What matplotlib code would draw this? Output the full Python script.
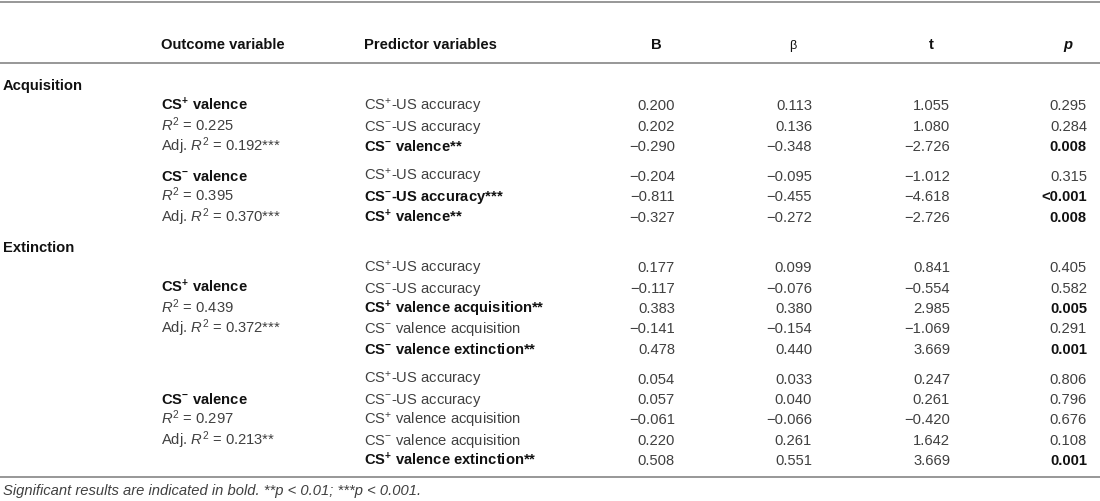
import matplotlib.pyplot as plt

plt.rcParams['font.family'] = ['Liberation Sans', 'DejaVu Sans']
plt.rcParams['mathtext.fontset'] = 'custom'
plt.rcParams['mathtext.rm'] = 'Liberation Sans'
plt.rcParams['mathtext.it'] = 'Liberation Sans:italic'
plt.rcParams['mathtext.bf'] = 'Liberation Sans:bold'

# table content
header_labels = ['Outcome variable', 'Predictor variables', 'B', 'β', 't', 'p']
sections = ['Acquisition', 'Extinction']
groups_per_section = [2, 2]

outcomes = ['CS⁺ valence', 'CS⁻ valence', 'CS⁺ valence', 'CS⁻ valence']
r2_values = ['0.225', '0.395', '0.439', '0.297']
adj_r2_values = ['0.192***', '0.370***', '0.372***', '0.213**']
group_sizes = [3, 3, 5, 5]

predictors = [
    'CS⁺-US accuracy', 'CS⁻-US accuracy', 'CS⁻ valence**',
    'CS⁺-US accuracy', 'CS⁻-US accuracy***', 'CS⁺ valence**',
    'CS⁺-US accuracy', 'CS⁻-US accuracy', 'CS⁺ valence acquisition**',
    'CS⁻ valence acquisition', 'CS⁻ valence extinction**',
    'CS⁺-US accuracy', 'CS⁻-US accuracy', 'CS⁺ valence acquisition',
    'CS⁻ valence acquisition', 'CS⁺ valence extinction**',
]
b_values = [0.200, 0.202, -0.290, -0.204, -0.811, -0.327,
            0.177, -0.117, 0.383, -0.141, 0.478,
            0.054, 0.057, -0.061, 0.220, 0.508]
beta_values = [0.113, 0.136, -0.348, -0.095, -0.455, -0.272,
               0.099, -0.076, 0.380, -0.154, 0.440,
               0.033, 0.040, -0.066, 0.261, 0.551]
t_values = [1.055, 1.080, -2.726, -1.012, -4.618, -2.726,
            0.841, -0.554, 2.985, -1.069, 3.669,
            0.247, 0.261, -0.420, 1.642, 3.669]
p_values = ['0.295', '0.284', '0.008', '0.315', '<0.001', '0.008',
            '0.405', '0.582', '0.005', '0.291', '0.001',
            '0.806', '0.796', '0.676', '0.108', '0.001']
significant = [False, False, True, False, True, True,
               False, False, True, False, True,
               False, False, False, False, True]
footnote = 'Significant results are indicated in bold. **p < 0.01; ***p < 0.001.'

FS = 10.6
REG = '#404040'
BOLD = '#111111'
LINE = '#8f8f8f'
X_SECTION, X_OUTCOME, X_PRED = 3, 161, 364
X_NUM = [675, 812, 950, 1087]
X_HEAD = [656, 793, 931, 1068]
PITCH, GAP = 20.4, 9.5
BASE = 5  # baseline sits this many pixels below the row centre


def fmt(v):
    return f'{v:.3f}'.replace('-', '\u2212')


def sup(s, bold=False):
    wrap = (lambda c: r'$^{\mathbf{%s}}$' % c) if bold else (lambda c: r'$^{%s}$' % c)
    return s.replace('⁺', wrap('+')).replace('⁻', wrap('-'))


def put(x, y, txt, **kw):
    kw.setdefault('fontsize', FS)
    kw.setdefault('color', REG)
    ax.text(x, y + BASE, txt, va='baseline', **kw)


fig = plt.figure(figsize=(11, 5.02), dpi=100)
ax = fig.add_axes([0, 0, 1, 1])
ax.set_xlim(0, 1100)
ax.set_ylim(502, 0)
ax.axis('off')

for y in (2.5, 64, 477.5):
    ax.plot([0, 1100], [y, y], color=LINE, lw=1.3, solid_capstyle='butt')

hy = 44
put(X_OUTCOME, hy, header_labels[0], fontweight='bold', color=BOLD)
put(X_PRED, hy, header_labels[1], fontweight='bold', color=BOLD)
put(X_HEAD[0], hy, header_labels[2], fontweight='bold', color=BOLD, ha='center')
put(X_HEAD[1], hy, header_labels[3], fontsize=FS - 1.5, color=BOLD, ha='center')
put(X_HEAD[2], hy, header_labels[4], fontweight='bold', color=BOLD, ha='center')
put(X_HEAD[3], hy, header_labels[5], fontweight='bold', style='italic', color=BOLD,
    ha='center')

y = 85
g = 0
row = 0
for s, section in enumerate(sections):
    if s > 0:
        y += PITCH + GAP
    put(X_SECTION, y, section, fontweight='bold', color=BOLD)
    for k in range(groups_per_section[s]):
        y += PITCH + (GAP if k > 0 else 0)
        n = group_sizes[g]
        off = (n - 3) // 2
        outcome_lines = [
            (sup(outcomes[g], True), 'bold', BOLD),
            (r'$R^2$ = ' + r2_values[g], 'normal', REG),
            (r'Adj. $R^2$ = ' + adj_r2_values[g], 'normal', REG),
        ]
        for i, (txt, w, c) in enumerate(outcome_lines):
            put(X_OUTCOME, y + (i + off) * PITCH, txt, fontweight=w, color=c)
        for i in range(n):
            yy = y + i * PITCH
            bold = significant[row]
            w = 'bold' if bold else 'normal'
            c = BOLD if bold else REG
            put(X_PRED, yy, sup(predictors[row], bold), fontweight=w, color=c)
            for x, val in zip(X_NUM[:3], (b_values[row], beta_values[row], t_values[row])):
                put(x, yy, fmt(val), ha='right')
            put(X_NUM[3], yy, p_values[row], fontweight=w, color=c, ha='right')
            row += 1
        y += (n - 1) * PITCH
        g += 1

put(X_SECTION, 490, footnote, style='italic')

fig.savefig('out.png', dpi=100)
